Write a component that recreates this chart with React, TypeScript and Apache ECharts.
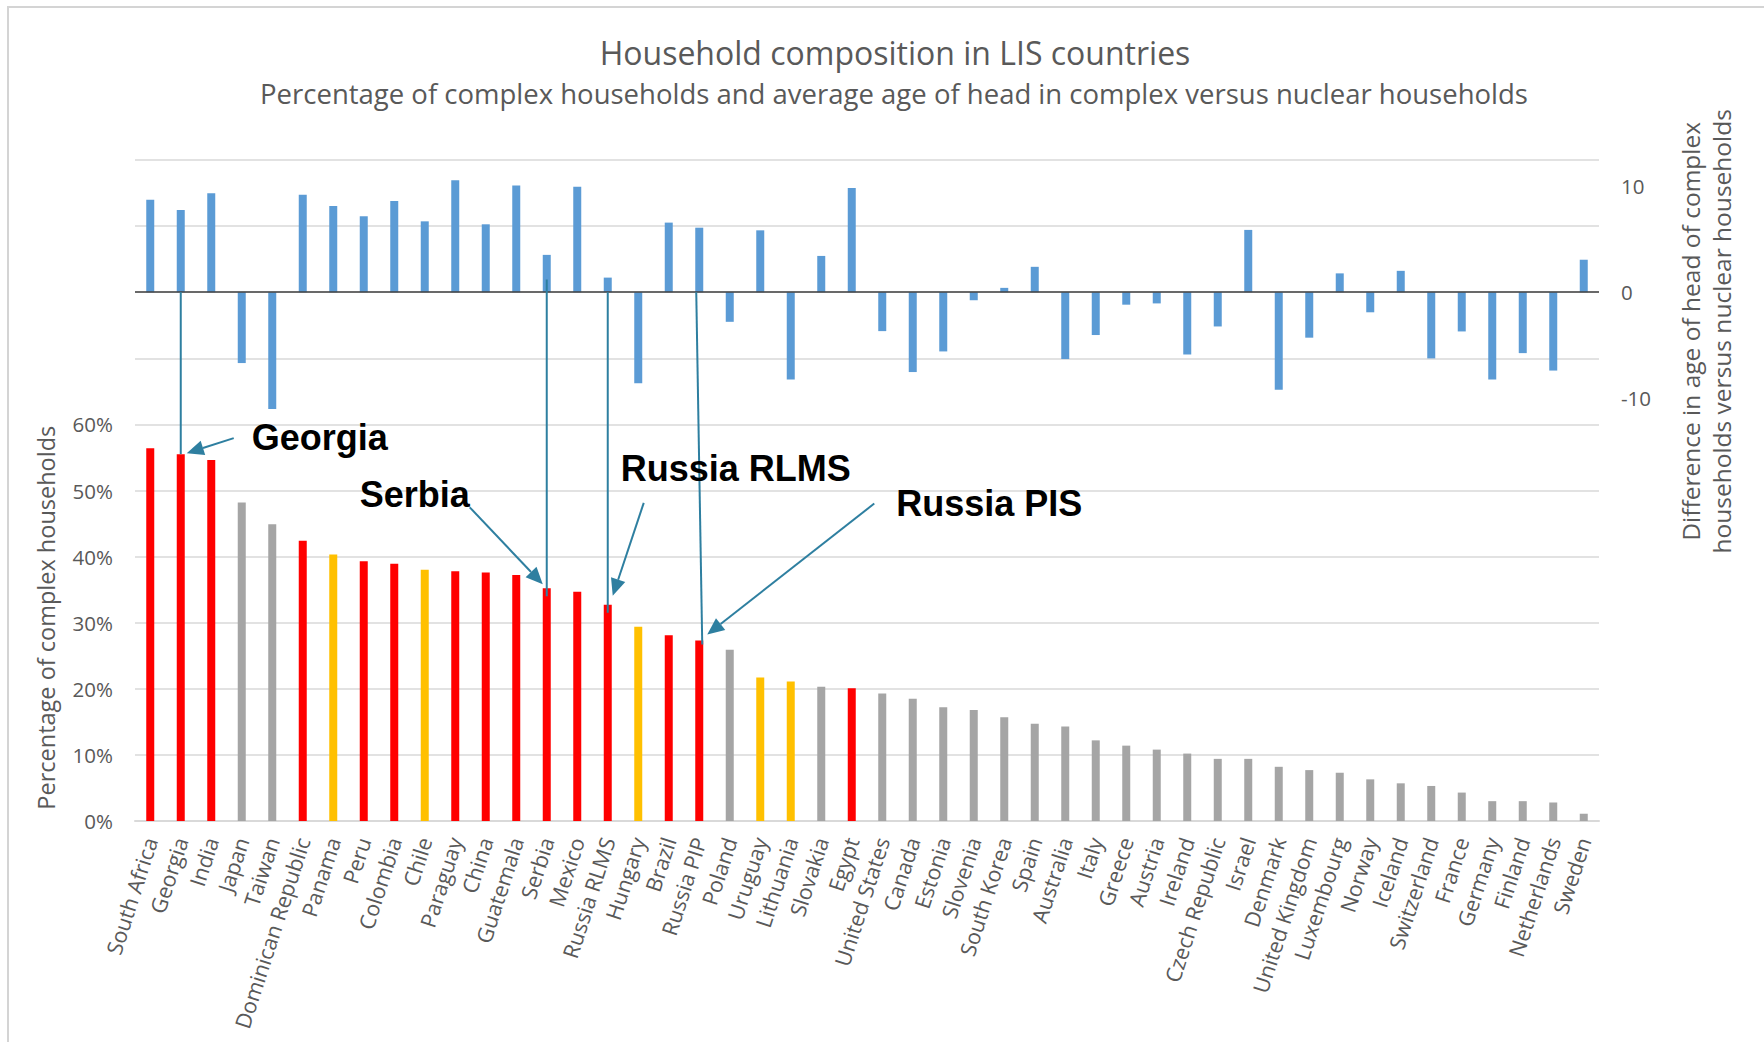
import React, { useEffect, useRef } from "react";
import * as echarts from "echarts";

const categories = [
  "South Africa", "Georgia", "India", "Japan", "Taiwan", "Dominican Republic", "Panama", "Peru",
  "Colombia", "Chile", "Paraguay", "China", "Guatemala", "Serbia", "Mexico", "Russia RLMS",
  "Hungary", "Brazil", "Russia PIP", "Poland", "Uruguay", "Lithuania", "Slovakia", "Egypt",
  "United States", "Canada", "Estonia", "Slovenia", "South Korea", "Spain", "Australia", "Italy",
  "Greece", "Austria", "Ireland", "Czech Republic", "Israel", "Denmark", "United Kingdom", "Luxembourg",
  "Norway", "Iceland", "Switzerland", "France", "Germany", "Finland", "Netherlands", "Sweden",
];

// Percentage of complex households (left axis, %)
const complexShare = [
  56.4, 55.5, 54.6, 48.2, 44.9, 42.4, 40.3, 39.3, 38.9, 38.0,
  37.8, 37.6, 37.2, 35.2, 34.7, 32.7, 29.4, 28.1, 27.3, 25.9,
  21.7, 21.1, 20.3, 20.1, 19.3, 18.5, 17.2, 16.8, 15.7, 14.7,
  14.3, 12.2, 11.4, 10.8, 10.2, 9.4, 9.4, 8.2, 7.7, 7.3,
  6.3, 5.7, 5.3, 4.3, 3.0, 3.0, 2.8, 1.1,
];

// Difference in age of head, complex vs nuclear households (right axis, years)
const ageDiff = [
  8.75, 7.77, 9.35, -6.7, -11.05, 9.22, 8.15, 7.18, 8.62, 6.7,
  10.58, 6.42, 10.1, 3.53, 9.98, 1.38, -8.62, 6.58, 6.1, -2.8,
  5.85, -8.25, 3.43, 9.85, -3.68, -7.55, -5.6, -0.76, 0.41, 2.4,
  -6.32, -4.05, -1.18, -1.06, -5.89, -3.24, 5.89, -9.22, -4.3, 1.78,
  -1.9, 2.02, -6.26, -3.71, -8.26, -5.76, -7.41, 3.07,
];

// Colour group of each country's share bar: R = red, G = grey, Y = yellow
const groupOf = [
  "R", "R", "R", "G", "G", "R", "Y", "R", "R", "Y",
  "R", "R", "R", "R", "R", "R", "Y", "R", "R", "G",
  "Y", "Y", "G", "R", "G", "G", "G", "G", "G", "G",
  "G", "G", "G", "G", "G", "G", "G", "G", "G", "G",
  "G", "G", "G", "G", "G", "G", "G", "G",
];

const leftTickMaxLabel = 60; // left axis shows labels 0%..60%
const rightTickLabels = [-10, 0, 10];

const titleText = "Household composition in LIS countries";
const subtitleText =
  "Percentage of complex households and average age of head in complex versus nuclear households";
const leftAxisName = "Percentage of complex households";
const rightAxisName = "Difference in age of head of complex\nhouseholds versus nuclear households";

const COLORS: Record<string, string> = { R: "#FF0000", G: "#A5A5A5", Y: "#FFC000" };
const BLUE = "#5B9BD5";
const ARROW = "#2E7FA0";
const FONT = '"Open Sans", "Noto Sans", sans-serif';
const TXT = "#595959";

export default function App() {
  const ref = useRef<HTMLDivElement>(null);

  useEffect(() => {
    const chart = echarts.init(ref.current as HTMLDivElement, null, { renderer: "svg" });

    const option: any = {
      animation: false,
      backgroundColor: "#ffffff",
      textStyle: { fontFamily: FONT },
      title: [
        {
          text: titleText,
          left: 890,
          top: 31,
          textAlign: "center",
          textStyle: { fontFamily: FONT, fontSize: 32, fontWeight: "normal", color: TXT },
        },
        {
          text: subtitleText,
          left: 889,
          top: 74,
          textAlign: "center",
          textStyle: { fontFamily: FONT, fontSize: 27.5, fontWeight: "normal", color: TXT },
        },
      ],
      grid: { left: 135, right: 165, top: 160, bottom: 221, containLabel: false },
      xAxis: {
        type: "category",
        data: categories,
        axisTick: { show: false },
        axisLine: { show: true, lineStyle: { color: "#D9D9D9", width: 2 } },
        axisLabel: {
          interval: 0,
          rotate: 72,
          fontSize: 21.5,
          color: TXT,
          fontFamily: FONT,
          margin: 17,
        },
      },
      yAxis: [
        {
          type: "value",
          min: 0,
          max: 100,
          interval: 10,
          position: "left",
          axisLine: { show: false },
          axisTick: { show: false },
          splitLine: { show: true, lineStyle: { color: "#D9D9D9", width: 1.5 } },
          axisLabel: {
            fontSize: 20.5,
            color: TXT,
            fontFamily: FONT,
            margin: 22,
            formatter: (v: number) => (v <= leftTickMaxLabel ? `${Math.round(v)}%` : ""),
          },
        },
        {
          type: "value",
          min: -50,
          max: 12.5,
          interval: 10,
          position: "right",
          axisLine: { show: false },
          axisTick: { show: false },
          splitLine: { show: false },
          axisLabel: {
            fontSize: 20.5,
            color: TXT,
            fontFamily: FONT,
            margin: 22,
            formatter: (v: number) => (rightTickLabels.indexOf(v) >= 0 ? String(v) : ""),
          },
        },
      ],
      series: [
        {
          name: "Share of complex households",
          type: "bar",
          xAxisIndex: 0,
          yAxisIndex: 0,
          barWidth: 8,
          barGap: "-100%",
          data: complexShare.map((v, i) => ({ value: v, itemStyle: { color: COLORS[groupOf[i]] } })),
          emphasis: { disabled: true },
        },
        {
          name: "Age difference",
          type: "bar",
          xAxisIndex: 0,
          yAxisIndex: 1,
          barWidth: 8,
          barGap: "-100%",
          itemStyle: { color: BLUE },
          data: ageDiff,
          emphasis: { disabled: true },
          markLine: {
            silent: true,
            symbol: "none",
            label: { show: false },
            lineStyle: { color: "#404040", width: 1.5, type: "solid" },
            data: [{ yAxis: 0 }],
          },
        },
      ],
    };

    chart.setOption(option);

    const toPx = (i: number, v: number, axis: number): number[] =>
      chart.convertToPixel({ xAxisIndex: 0, yAxisIndex: axis }, [i, v]) as number[];

    const g: any[] = [];
    // Chart border
    g.push({
      type: "rect",
      shape: { x: 8, y: 7, width: 1800, height: 1100 },
      style: { fill: "none", stroke: "#D4D4D4", lineWidth: 2 },
      silent: true,
      z: -10,
    });

    const line = (x1: number, y1: number, x2: number, y2: number) => {
      g.push({
        type: "line",
        shape: { x1, y1, x2, y2 },
        style: { stroke: ARROW, lineWidth: 2 },
        silent: true,
        z: 50,
      });
    };
    const arrow = (x1: number, y1: number, x2: number, y2: number) => {
      const dx = x2 - x1;
      const dy = y2 - y1;
      const L = Math.hypot(dx, dy);
      const ux = dx / L;
      const uy = dy / L;
      const len = 17;
      const hw = 7.5;
      const bx = x2 - ux * len;
      const by = y2 - uy * len;
      line(x1, y1, bx, by);
      g.push({
        type: "polygon",
        shape: {
          points: [
            [x2, y2],
            [bx - uy * hw, by + ux * hw],
            [bx + uy * hw, by - ux * hw],
          ],
        },
        style: { fill: ARROW },
        silent: true,
        z: 50,
      });
    };
    const label = (text: string, x: number, y: number, align: string) => {
      g.push({
        type: "text",
        x,
        y,
        style: {
          text,
          fontFamily: '"Liberation Sans", Arial, sans-serif',
          fontWeight: "bold",
          fontSize: 36,
          fill: "#000000",
          align,
          verticalAlign: "middle",
        },
        silent: true,
        z: 60,
      });
    };

    const idx = (name: string) => categories.indexOf(name);

    // Georgia
    {
      const i = idx("Georgia");
      const top = toPx(i, complexShare[i], 0);
      const zero = toPx(i, 0, 1);
      line(zero[0], zero[1], top[0], top[1]);
      arrow(top[0] + 53, top[1] - 16, top[0] + 6, top[1] - 1);
      label("Georgia", top[0] + 71, top[1] - 17, "left");
    }
    // Serbia
    {
      const i = idx("Serbia");
      const top = toPx(i, complexShare[i], 0);
      const start = toPx(i, 1.2, 1);
      line(start[0], start[1], top[0], top[1] + 8);
      arrow(top[0] - 77, top[1] - 81, top[0] - 4, top[1] - 4);
      label("Serbia", top[0] - 77, top[1] - 94, "right");
    }
    // Russia RLMS
    {
      const i = idx("Russia RLMS");
      const top = toPx(i, complexShare[i], 0);
      const zero = toPx(i, 0, 1);
      line(zero[0], zero[1], top[0], top[1] + 8);
      arrow(top[0] + 36, top[1] - 102, top[0] + 5, top[1] - 9);
      label("Russia RLMS", top[0] + 13, top[1] - 136, "left");
    }
    // Russia PIP (labelled "Russia PIS")
    {
      const i = idx("Russia PIP");
      const top = toPx(i, complexShare[i], 0);
      const zero = toPx(i, 0, 1);
      line(zero[0] - 3, zero[1], top[0] + 3, top[1] + 4);
      arrow(top[0] + 175, top[1] - 137, top[0] + 8, top[1] - 6);
      label("Russia PIS", top[0] + 197, top[1] - 137, "left");
    }

    // Axis names
    {
      const p = toPx(0, 30, 0);
      g.push({
        type: "text",
        x: p[0] - 104,
        y: p[1] - 5,
        rotation: Math.PI / 2,
        style: {
          text: leftAxisName,
          fontFamily: FONT,
          fontSize: 23.5,
          fill: TXT,
          align: "center",
          verticalAlign: "middle",
        },
        silent: true,
      });
    }
    {
      const p = toPx(categories.length - 1, -3.7, 1);
      g.push({
        type: "text",
        x: p[0] + 122,
        y: p[1],
        rotation: Math.PI / 2,
        style: {
          text: rightAxisName,
          fontFamily: FONT,
          fontSize: 24.5,
          lineHeight: 31,
          fill: TXT,
          align: "center",
          verticalAlign: "middle",
        },
        silent: true,
      });
    }

    chart.setOption({ graphic: g });

    return () => chart.dispose();
  }, []);

  return (
    <div
      ref={ref}
      style={{ position: "fixed", left: 0, top: 0, width: 1764, height: 1042, background: "#fff" }}
    />
  );
}
